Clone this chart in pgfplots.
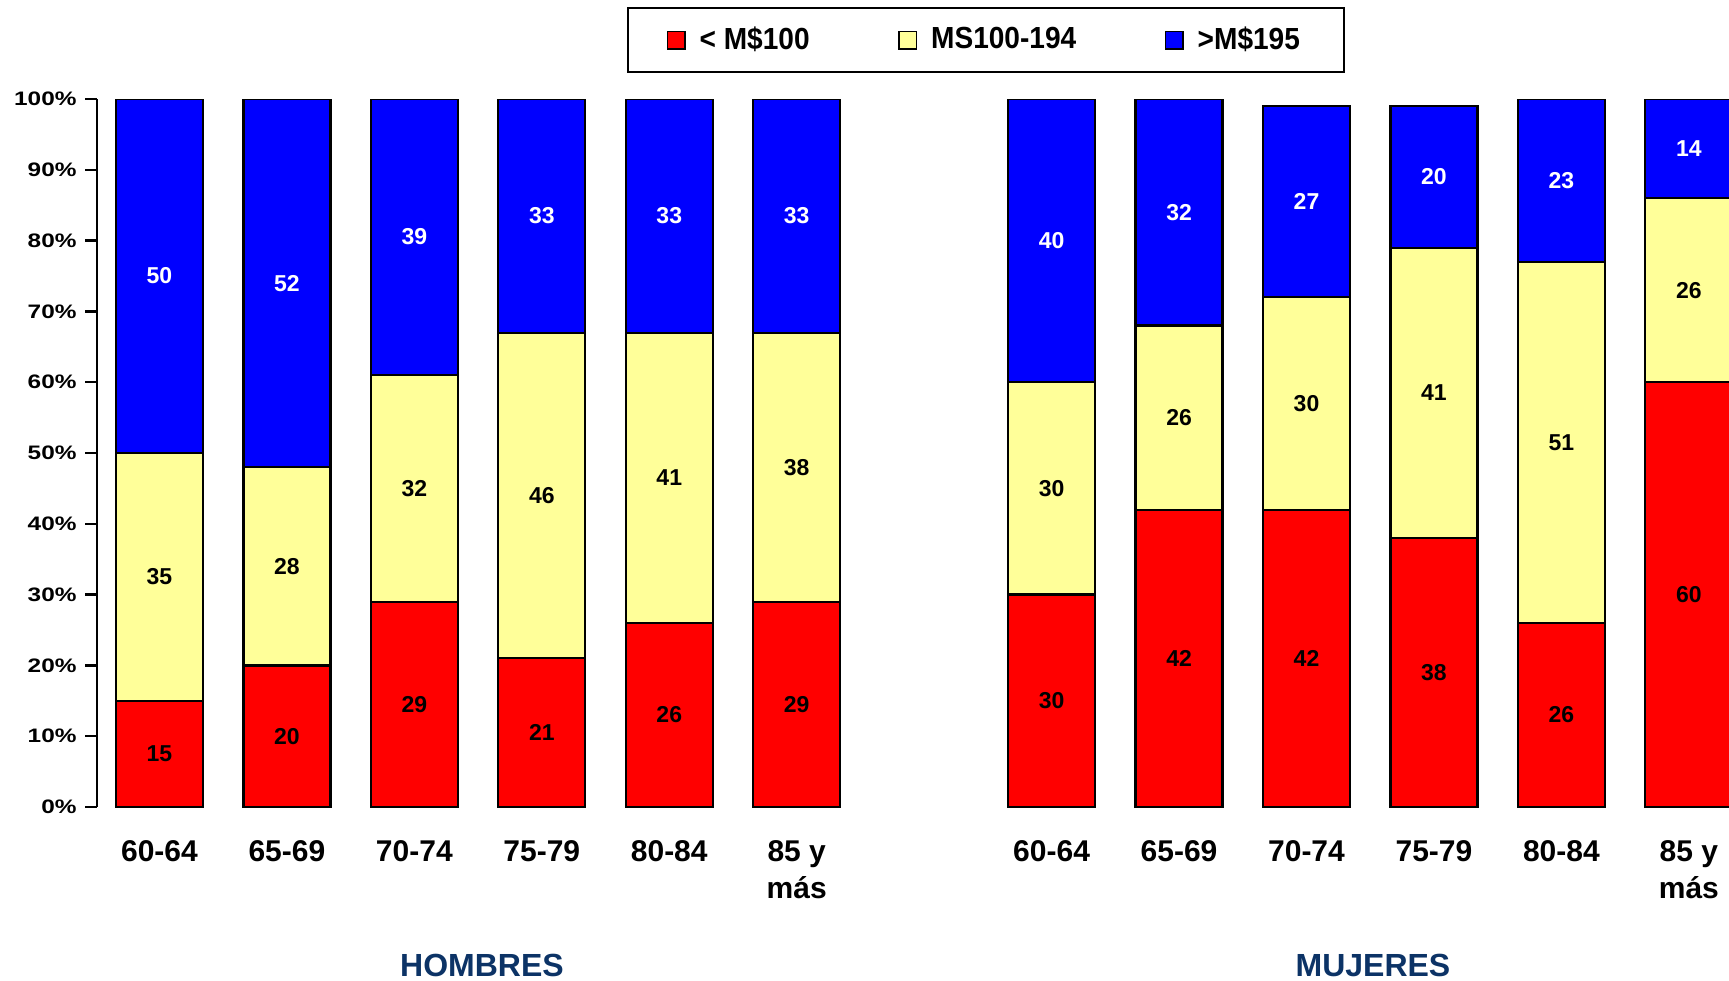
\documentclass[border=0pt]{standalone}
\usepackage{fontspec}
\setmainfont{Liberation Sans}
\newfontfamily\legfont{Liberation Sans}[FakeStretch=0.92]
\usepackage{graphicx}
\usepackage{pgfplots}
\usepackage{pgfplotstable}
\pgfplotsset{compat=1.18}

\definecolor{cLow}{RGB}{255,0,0}
\definecolor{cMid}{RGB}{255,255,153}
\definecolor{cHigh}{RGB}{0,0,255}
\definecolor{grpblue}{RGB}{12,51,102}

% x: 0-5 hombres, 7-12 mujeres (share of each income band, %)
\pgfplotstableread{
x  low mid high
0  15  35  50
1  20  28  52
2  29  32  39
3  21  46  33
4  26  41  33
5  29  38  33
7  30  30  40
8  42  26  32
9  42  30  27
10 38  41  20
11 26  51  23
12 60  26  14
}\datatab

\pgfplotsset{
  frame/.style={
    at={(0,0)}, anchor=south west,
    scale only axis,
    width=652.8pt, height=283.2pt,
    xmin=-0.49, xmax=12.315,
    ymin=0, ymax=100,
    /pgf/number format/assume math mode=true,
  },
  lbl/.style={draw=none, mark=none, nodes near coords, point meta=explicit,
    nodes near coords style={font=\fontsize{9.2}{11}\selectfont\bfseries, anchor=center, text=#1}},
}

\begin{document}
\begin{tikzpicture}
\begin{axis}[
  frame,
  ybar stacked,
  bar width=0.683,
  axis y line*=left,
  axis x line*=bottom,
  x axis line style={draw=none},
  y axis line style={-, line width=1pt},
  xtick={0,1,2,3,4,5,7,8,9,10,11,12},
  xticklabels={60-64,65-69,70-74,75-79,80-84,{85 y\\más},60-64,65-69,70-74,75-79,80-84,{85 y\\más}},
  xtick style={draw=none},
  xticklabel style={font=\fontsize{12}{15}\selectfont\bfseries, align=center, anchor=north, inner sep=0pt, yshift=-8.4pt},
  ytick={0,10,...,100},
  tick align=outside,
  major tick length=4.8pt,
  ytick style={line width=1pt, black},
  yticklabel={\scalebox{1.25}[1]{\pgfmathprintnumber{\tick}\%}},
  yticklabel style={font=\fontsize{7.8}{9}\selectfont\bfseries, anchor=east, inner sep=0pt, xshift=-3.2pt},
  legend columns=3,
  legend style={at={(0.5447,1.0833)}, anchor=center, draw=black, line width=0.8pt,
    font=\legfont\fontsize{12.2}{14}\selectfont\bfseries, inner xsep=15.5pt, inner ysep=5.5pt,
    /tikz/every odd column/.append style={column sep=3.5pt},
    /tikz/every even column/.append style={column sep=33.5pt}},
  legend image code/.code={\draw[#1, draw=black, line width=0.6pt] (0pt,-3.5pt) rectangle (7pt,3.5pt);},
]
\addplot[fill=cLow, draw=black, line width=0.9pt] table[x=x, y=low] {\datatab};
\addplot[fill=cMid, draw=black, line width=0.9pt] table[x=x, y=mid] {\datatab};
\addplot[fill=cHigh, draw=black, line width=0.9pt] table[x=x, y=high] {\datatab};
\legend{< M\$100, MS100-194, >M\$195}
\end{axis}
% value labels, centred in each segment
\begin{axis}[frame, hide axis]
\addplot[lbl=black] table[x=x, y expr=\thisrow{low}/2, meta=low] {\datatab};
\addplot[lbl=black] table[x=x, y expr=\thisrow{low}+\thisrow{mid}/2, meta=mid] {\datatab};
\addplot[lbl=white] table[x=x, y expr=\thisrow{low}+\thisrow{mid}+\thisrow{high}/2, meta=high] {\datatab};
\end{axis}
\node[font=\fontsize{12.8}{15}\selectfont\bfseries, text=grpblue] at (154pt,-63.2pt) {HOMBRES};
\node[font=\fontsize{12.8}{15}\selectfont\bfseries, text=grpblue] at (510.4pt,-63.2pt) {MUJERES};
\pgfresetboundingbox
\path[use as bounding box] (-38.8pt,-69.2pt) rectangle (652.8pt,322.8pt);
\end{tikzpicture}
\end{document}
